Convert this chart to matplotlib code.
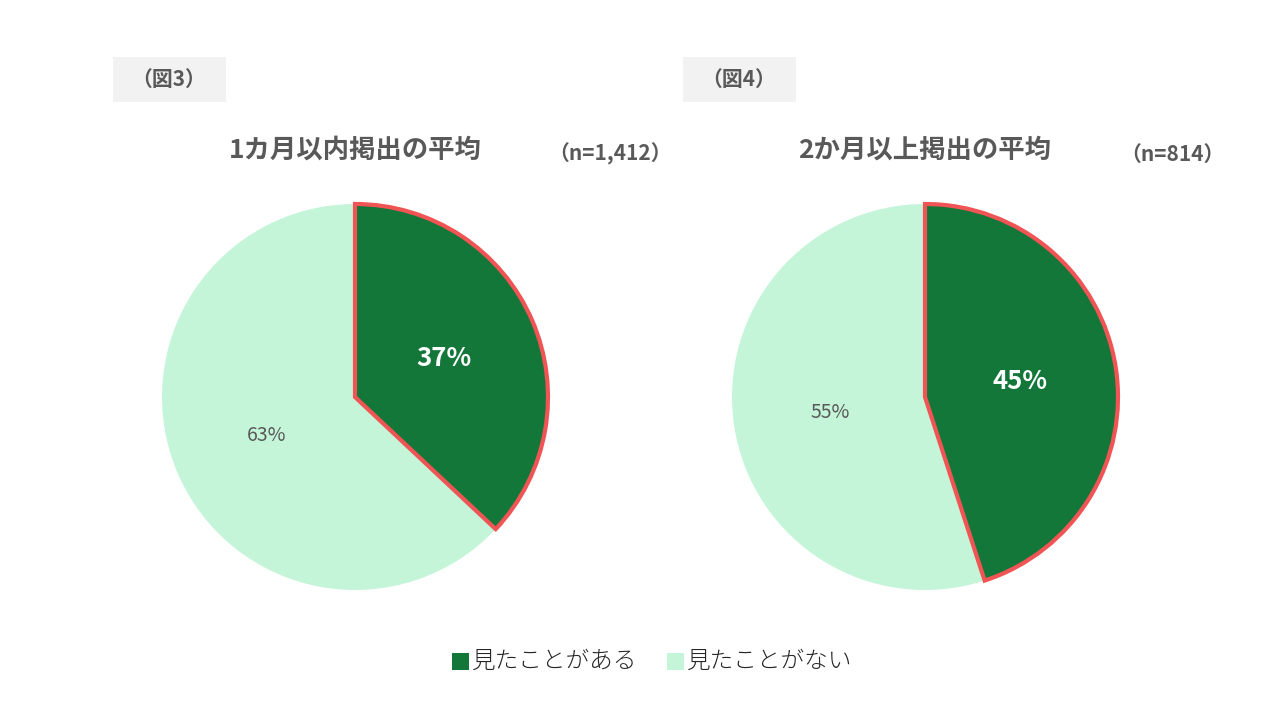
import matplotlib
matplotlib.use('Agg')
from matplotlib import pyplot as plt
from matplotlib.patches import Rectangle

plt.rcParams['font.family'] = ['Noto Sans CJK JP', 'DejaVu Sans']

# data
categories = ['見たことがある', '見たことがない']
fig_labels = ['（図3）', '（図4）']
titles = ['1カ月以内掲出の平均', '2か月以上掲出の平均']
sample_sizes = ['（n=1,412）', '（n=814）']
values_fig3 = [37, 63]
values_fig4 = [45, 55]

dark_green = '#137739'
light_green = '#c5f5d8'
edge_red = '#f05454'
text_gray = '#595959'

fig = plt.figure(figsize=(12.8, 7.2), dpi=100)
ax = fig.add_axes([0, 0, 1, 1])

# pixel layout: (pie center x, pie center y, box left, title x, n x)
layouts = [(355, 323, 113, 355, 610), (925, 323, 683, 925, 1172)]
all_values = [values_fig3, values_fig4]

for (cx, cy, box_x, tx, nx), vals, lab, title, n in zip(layouts, all_values, fig_labels, titles, sample_sizes):
    wedges, texts, autotexts = ax.pie(
        vals, colors=[dark_green, light_green], startangle=90, counterclock=False,
        center=(cx, cy), radius=193, autopct='%d%%', pctdistance=0.5,
        wedgeprops=dict(linewidth=0), frame=True)
    wedges[0].set_edgecolor(edge_red)
    wedges[0].set_linewidth(3)
    wedges[0].set_zorder(3)
    autotexts[0].set_color('white')
    autotexts[0].set_fontsize(18.5)
    autotexts[0].set_fontweight('bold')
    autotexts[0].set_zorder(4)
    autotexts[1].set_color(text_gray)
    autotexts[1].set_fontsize(14)

    ax.add_patch(Rectangle((box_x, 720 - 102), 113, 45, facecolor='#f2f2f2', edgecolor='none'))
    ax.text(box_x + 56, 720 - 79, lab, ha='center', va='center', fontsize=15,
            fontweight='bold', color=text_gray)
    ax.text(tx, 720 - 150, title, ha='center', va='center', fontsize=19,
            fontweight='bold', color=text_gray)
    ax.text(nx, 720 - 154, n, ha='center', va='center', fontsize=15,
            fontweight='bold', color=text_gray)

ax.set_xlim(0, 1280)
ax.set_ylim(0, 720)
ax.set_aspect('equal')
ax.axis('off')

# legend
leg_colors = [dark_green, light_green]
leg_x = [452, 667]
for x, c, name in zip(leg_x, leg_colors, categories):
    ax.add_patch(Rectangle((x, 720 - 670), 17, 17, facecolor=c, edgecolor='none'))
    ax.text(x + 20, 720 - 661, name, ha='left', va='center', fontsize=17,
            fontweight='light', color='#262626')

fig.savefig('out.png', dpi=100)
